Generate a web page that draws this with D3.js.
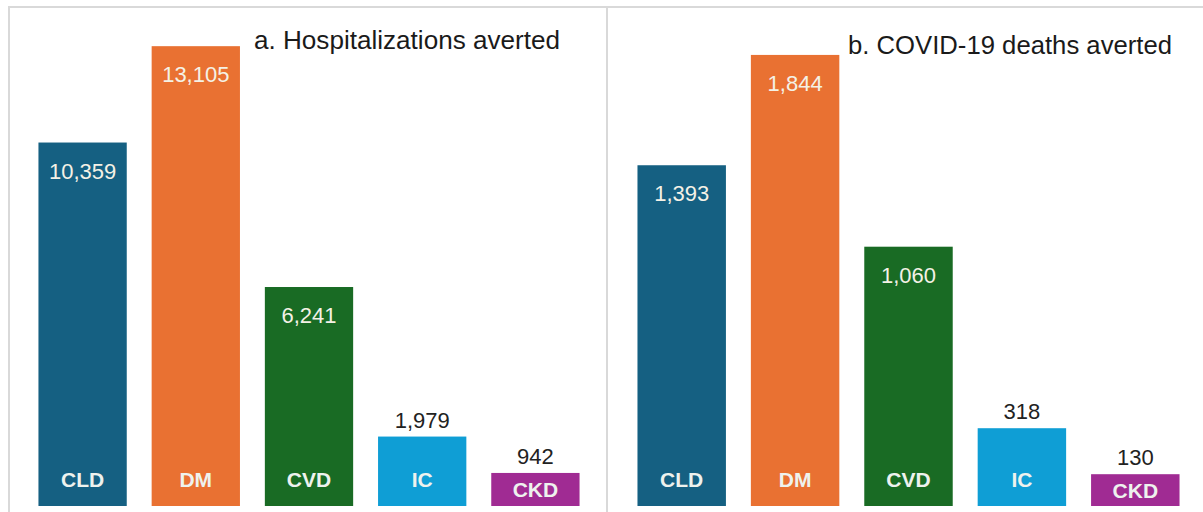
<!DOCTYPE html>
<html>
<head>
<meta charset="utf-8">
<script src="https://cdn.jsdelivr.net/npm/d3@7"></script>
<style>
  body { margin: 0; background: #fff; }
  svg { display: block; }
</style>
</head>
<body>
<div id="chart"></div>
<script>
// Chart size
const width = 1203;
const height = 512;

// Data
const categories = ["CLD", "DM", "CVD", "IC", "CKD"];
const hospitalizations = [10359, 13105, 6241, 1979, 942];
const deaths = [1393, 1844, 1060, 318, 130];
const panelTitles = ["a. Hospitalizations averted", "b. COVID-19 deaths averted"];
const barColors = ["#156082", "#E97132", "#196B24", "#0F9ED5", "#A02B93"];

const fmt = d3.format(",");

const svg = d3.select("#chart").append("svg")
  .attr("width", width)
  .attr("height", height);

// Frame lines
const frame = "#d9d9d9";
svg.append("line").attr("x1", 8).attr("x2", width).attr("y1", 7).attr("y2", 7)
  .attr("stroke", frame).attr("stroke-width", 2);
svg.append("line").attr("x1", 9).attr("x2", 9).attr("y1", 7).attr("y2", height)
  .attr("stroke", frame).attr("stroke-width", 2);
svg.append("line").attr("x1", 607).attr("x2", 607).attr("y1", 7).attr("y2", height)
  .attr("stroke", frame).attr("stroke-width", 2);

const panels = [
  { values: hospitalizations, range: [26, 592], max: 14250, title: panelTitles[0], tx: 254, ty: 49, tw: 306 },
  { values: deaths, range: [625, 1192], max: 2044, title: panelTitles[1], tx: 848, ty: 54, tw: 324 }
];

const baseY = 506;

panels.forEach(p => {
  const x = d3.scaleBand()
    .domain(categories)
    .range(p.range)
    .paddingInner(0.22)
    .paddingOuter(0.11);

  const y = d3.scaleLinear()
    .domain([0, p.max])
    .range([baseY, 6]);

  const g = svg.append("g");

  g.selectAll("rect")
    .data(p.values)
    .enter()
    .append("rect")
    .attr("x", (d, i) => x(categories[i]))
    .attr("y", d => y(d))
    .attr("width", x.bandwidth())
    .attr("height", d => baseY - y(d))
    .attr("fill", (d, i) => barColors[i]);

  // Value labels: inside tall bars, above short ones
  g.selectAll("text.value")
    .data(p.values)
    .enter()
    .append("text")
    .attr("class", "value")
    .attr("x", (d, i) => x(categories[i]) + x.bandwidth() / 2)
    .attr("y", d => (baseY - y(d) > 150) ? y(d) + 36 : y(d) - 9)
    .attr("text-anchor", "middle")
    .attr("font-family", "'Liberation Sans', Arial, sans-serif")
    .attr("font-size", 22)
    .attr("fill", d => (baseY - y(d) > 150) ? "#f4f1e6" : "#222")
    .text(d => fmt(d));

  // Category labels at the foot of the bars
  g.selectAll("text.cat")
    .data(p.values)
    .enter()
    .append("text")
    .attr("class", "cat")
    .attr("x", (d, i) => x(categories[i]) + x.bandwidth() / 2)
    .attr("y", d => (baseY - y(d) < 50) ? (y(d) + baseY) / 2 + 8 : 487)
    .attr("text-anchor", "middle")
    .attr("font-family", "'Liberation Sans Narrow', 'Liberation Sans', Arial, sans-serif")
    .attr("font-weight", "bold")
    .attr("font-size", 21)
    .attr("fill", "#eef2ee")
    .text((d, i) => categories[i]);

  g.append("text")
    .attr("x", p.tx)
    .attr("y", p.ty)
    .attr("font-family", "'Liberation Sans Narrow', 'Liberation Sans', Arial, sans-serif")
    .attr("font-size", 26)
    .attr("fill", "#1a1a1a")
    .attr("textLength", p.tw)
    .attr("lengthAdjust", "spacingAndGlyphs")
    .text(p.title);
});
</script>
</body>
</html>
